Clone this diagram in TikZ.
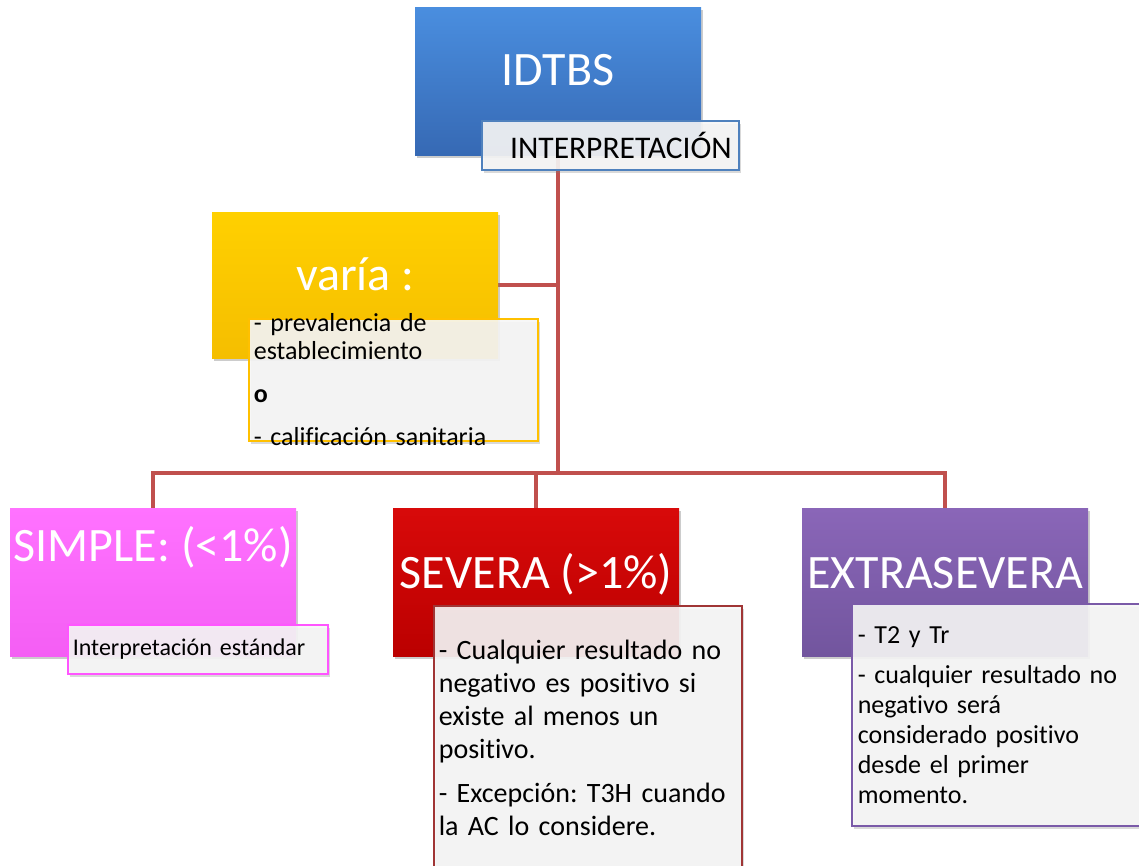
\documentclass[tikz,border=0pt]{standalone}
\usepackage{fontspec}
\setmainfont{Carlito}[Ligatures={NoCommon}]
\usepackage{tikz}
\usetikzlibrary{shadows, backgrounds}
\frenchspacing

\definecolor{linkred}{HTML}{C0504D}
\definecolor{subgray}{HTML}{F6F6F6}
\definecolor{blueA}{HTML}{4A8EDF}
\definecolor{blueB}{HTML}{3669B4}
\definecolor{yellowA}{HTML}{FFD000}
\definecolor{yellowB}{HTML}{F5BE00}
\definecolor{pinkA}{HTML}{FF72FF}
\definecolor{pinkB}{HTML}{F45EF4}
\definecolor{redA}{HTML}{D80A0A}
\definecolor{redB}{HTML}{BB0000}
\definecolor{purpleA}{HTML}{8A66B8}
\definecolor{purpleB}{HTML}{72559E}
\definecolor{lineblue}{HTML}{4F81BD}
\definecolor{lineyellow}{HTML}{FFC000}
\definecolor{linepink}{HTML}{FF55FF}
\definecolor{linered}{HTML}{A03535}
\definecolor{linepurple}{HTML}{7A5AA8}

\begin{document}
\begin{tikzpicture}[x=1pt, y=-1pt,
    mainbox/.style={anchor=north west, inner sep=0pt, minimum width=286pt,
        text=white, font=\fontsize{48}{52}\selectfont,
        drop shadow={shadow xshift=2pt, shadow yshift=-3pt, opacity=0.4}},
    subbox/.style={anchor=north west, draw=#1, line width=1.6pt, fill=subgray,
        fill opacity=0.9, draw opacity=1, text opacity=1, inner xsep=5pt, align=left,
        drop shadow={shadow xshift=2pt, shadow yshift=-3pt, opacity=0.3}},
    link/.style={draw=linkred, line width=4.5pt}]

    \useasboundingbox (0,0) rectangle (1139,865);

    % top
    \node[mainbox, top color=blueA, bottom color=blueB, text height=78pt, text depth=70pt] (idtbs) at (415,7) {IDTBS};
    \node[subbox=lineblue, minimum height=49pt, text width=243pt, inner xsep=7pt, align=right,
        font=\fontsize{31.5}{34}\selectfont] (interp) at (481,120) {INTERPRETACIÓN};

    % varia
    \node[mainbox, top color=yellowA, bottom color=yellowB, text height=78pt, text depth=68pt] (varia) at (212,212) {varía :};
    \node[subbox=lineyellow, minimum height=122pt, text width=279pt, inner ysep=-9pt,
        font=\fontsize{26}{28}\selectfont] (variasub) at (248,318)
        {- prevalencia de\\ establecimiento\\[15pt] \textbf{o}\\[15pt] - calificación sanitaria};

    % bottom row
    \node[mainbox, top color=pinkA, bottom color=pinkB, text height=53pt, text depth=95pt] (simple) at (10,508) {SIMPLE: (<1\%)};
    \node[subbox=linepink, minimum height=49pt, text width=250pt,
        font=\fontsize{24}{28}\selectfont] (simplesub) at (67,624) {Interpretación estándar};

    \node[mainbox, top color=redA, bottom color=redB, text height=80pt, text depth=68pt] (severa) at (393,508) {SEVERA (>1\%)};
    \node[subbox=linered, minimum height=265pt, text width=298pt,
        font=\fontsize{28}{33}\selectfont] (severasub) at (433,605)
        {- Cualquier resultado no\\ negativo es positivo si\\ existe al menos un\\ positivo.\\[11pt] - Excepción: T3H cuando\\ la AC lo considere.};

    \node[mainbox, top color=purpleA, bottom color=purpleB, text height=80pt, text depth=68pt] (extra) at (802,508) {EXTRASEVERA};
    \node[subbox=linepurple, minimum height=222pt, text width=278pt, inner xsep=6pt,
        font=\fontsize{26}{30}\selectfont] (extrasub) at (851,603)
        {- T2 y Tr\\[10pt] - cualquier resultado no\\ negativo será\\ considerado positivo\\ desde el primer\\ momento.};

    \coordinate (bus) at (idtbs.south |- 0,473);

    % connectors
    \begin{scope}[on background layer]
        \draw[link] (idtbs.south) -- (bus);
        \draw[link] (varia.east) -- (varia.east -| idtbs.south);
        \draw[link] (simple.north) |- (bus) -| (extra.north);
        \draw[link] (severa.north) -- (severa.north |- bus);
    \end{scope}

\end{tikzpicture}
\end{document}
